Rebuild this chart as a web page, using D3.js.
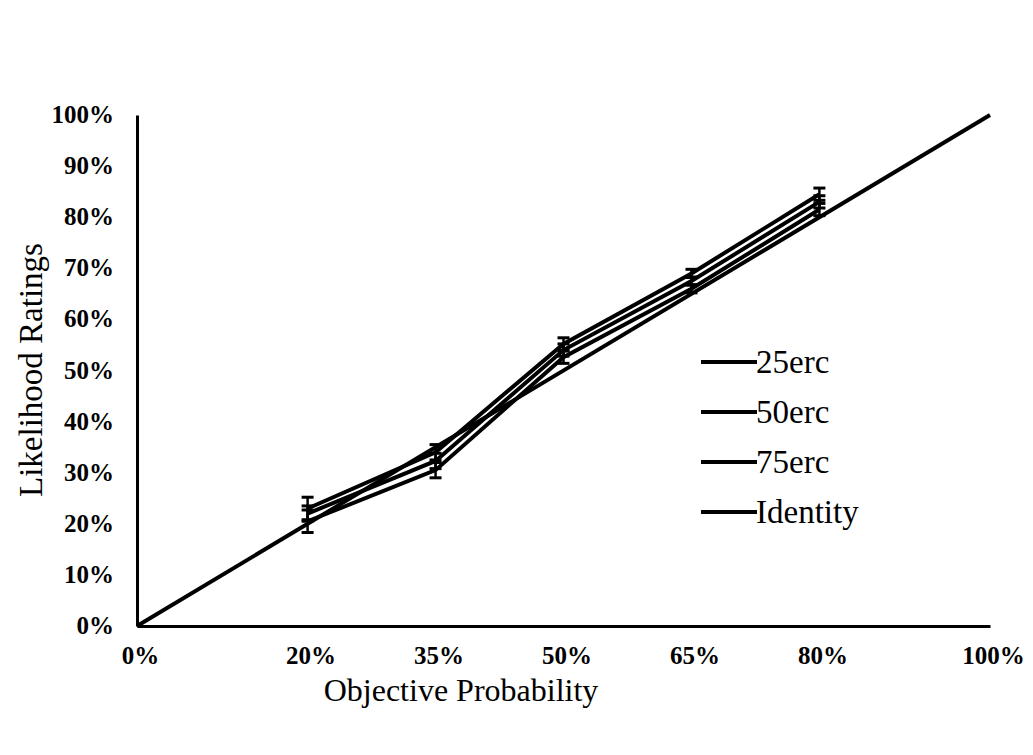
<!DOCTYPE html>
<html>
<head>
<meta charset="utf-8">
<script src="https://cdn.jsdelivr.net/npm/d3@7"></script>
<style>
  body { margin: 0; background: #fff; }
  svg { display: block; }
  .tick text { font-family: "Liberation Serif", serif; font-weight: bold; font-size: 25px; fill: #000; }
</style>
</head>
<body>
<div id="chart"></div>
<script>
const width = 1033, height = 755;

// data
const xTicks = [0, 20, 35, 50, 65, 80, 100];
const yTicks = [0, 10, 20, 30, 40, 50, 60, 70, 80, 90, 100];
const probs = [20, 35, 50, 65, 80];
const erc25 = [23, 34, 55.2, 69, 84.5];
const erc50 = [22, 32.3, 54, 67.5, 83];
const erc75 = [20.5, 30.5, 52.6, 66, 81.5];
const err25 = [2.2, 1.5, 1.2, 0.8, 1.2];
const err50 = [1.5, 1.5, 1.2, 0.8, 1.2];
const err75 = [2.2, 1.5, 1.2, 0.8, 1.2];
const identity = [0, 100];
const legendNames = ["25erc", "50erc", "75erc", "Identity"];

var series = [
    {name: "25erc", vals: erc25, err: err25},
    {name: "50erc", vals: erc50, err: err50},
    {name: "75erc", vals: erc75, err: err75}
];

var svg = d3.select("#chart")
    .append("svg")
    .attr("width", width)
    .attr("height", height);

var x = d3.scaleLinear().domain([0, 100]).range([137, 990]);
var y = d3.scaleLinear().domain([0, 100]).range([626, 115]);

var line = d3.line()
    .x((d) => x(d[0]))
    .y((d) => y(d[1]));

// axes
var yAxis = svg.append("g")
    .attr("transform", "translate(" + x(0) + ",0)")
    .call(d3.axisLeft(y).tickValues(yTicks).tickSize(0).tickPadding(23)
        .tickFormat((d) => d + "%"));
yAxis.select(".domain").attr("stroke", "#000").attr("stroke-width", 3);
yAxis.selectAll(".tick text").attr("dy", "0.3em");

var xAxis = svg.append("g")
    .attr("transform", "translate(0," + y(0) + ")")
    .call(d3.axisBottom(x).tickValues(xTicks).tickSize(0).tickPadding(20)
        .tickFormat((d) => d + "%"));
xAxis.select(".domain").attr("stroke", "#000").attr("stroke-width", 3);
xAxis.selectAll(".tick text").attr("dx", 3);

// identity line
svg.append("path")
    .attr("d", line(identity.map((v) => [v, v])))
    .attr("fill", "none")
    .attr("stroke", "#000")
    .attr("stroke-width", 4);

// erc series
series.forEach(function(s) {
    var pts = probs.map((p, i) => [p, s.vals[i]]);
    svg.append("path")
        .attr("d", line(pts))
        .attr("fill", "none")
        .attr("stroke", "#000")
        .attr("stroke-width", 4);

    var g = svg.append("g").attr("stroke", "#000");
    probs.forEach(function(p, i) {
        var cx = x(p), lo = y(s.vals[i] - s.err[i]), hi = y(s.vals[i] + s.err[i]);
        g.append("line").attr("x1", cx).attr("x2", cx).attr("y1", lo).attr("y2", hi).attr("stroke-width", 2.5);
        g.append("line").attr("x1", cx - 6).attr("x2", cx + 6).attr("y1", lo).attr("y2", lo).attr("stroke-width", 3);
        g.append("line").attr("x1", cx - 6).attr("x2", cx + 6).attr("y1", hi).attr("y2", hi).attr("stroke-width", 3);
    });
});

// legend
var legend = svg.append("g").attr("transform", "translate(701,362)");
legendNames.forEach(function(name, i) {
    var row = legend.append("g").attr("transform", "translate(0," + (i * 50) + ")");
    row.append("line").attr("x1", 0).attr("x2", 56).attr("y1", 0).attr("y2", 0)
        .attr("stroke", "#000").attr("stroke-width", 4);
    row.append("text").attr("x", 55).attr("y", 11)
        .style("font-family", "'Liberation Serif', serif")
        .style("font-size", "33px")
        .text(name);
});

// axis titles
svg.append("text")
    .attr("x", 461).attr("y", 701)
    .attr("text-anchor", "middle")
    .style("font-family", "'Liberation Serif', serif")
    .style("font-size", "32px")
    .text("Objective Probability");

svg.append("text")
    .attr("transform", "translate(42,370) rotate(-90)")
    .attr("text-anchor", "middle")
    .style("font-family", "'Liberation Serif', serif")
    .style("font-size", "33px")
    .text("Likelihood Ratings");
</script>
</body>
</html>
